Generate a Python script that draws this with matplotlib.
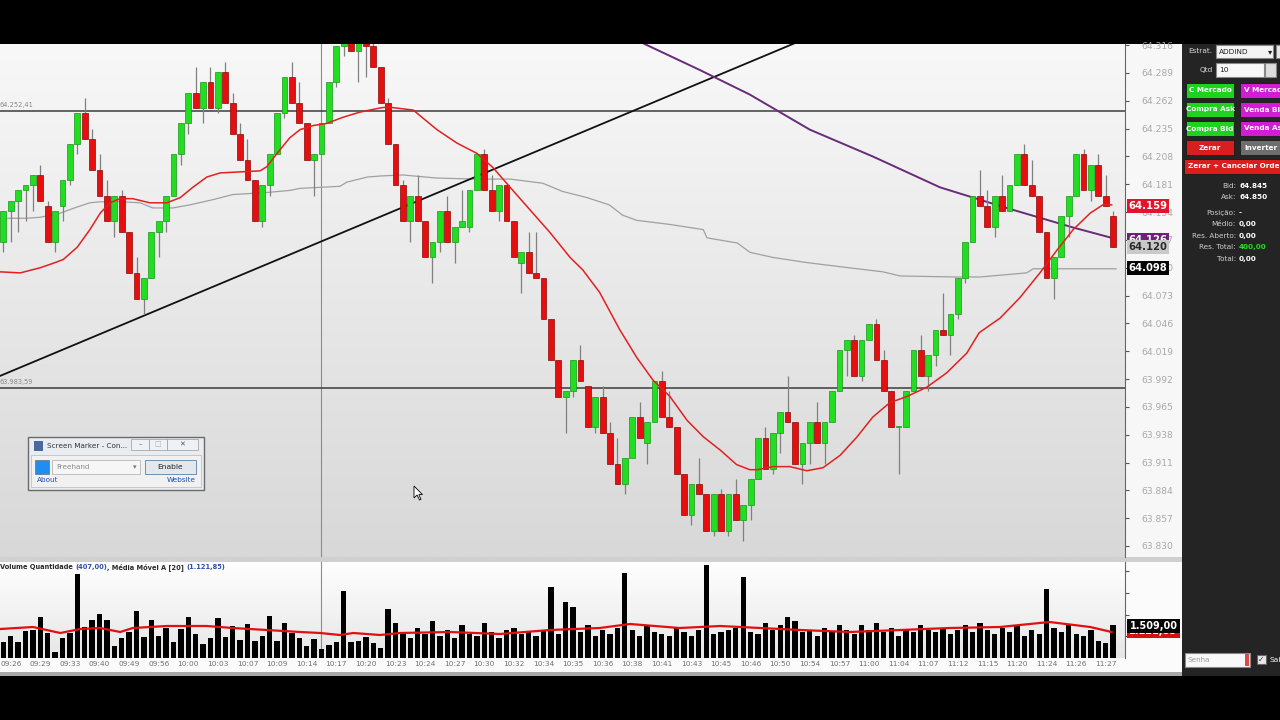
import numpy as np
import matplotlib.pyplot as plt
from matplotlib.patches import Rectangle, Polygon

W, H = 1280, 720

# candle data (index points, WIN futures)
opens = [64125, 64155, 64165, 64175, 64180, 64190, 64160, 64125, 64160, 64185,
         64220, 64250, 64225, 64195, 64170, 64145, 64170, 64135, 64095, 64070,
         64090, 64135, 64145, 64170, 64210, 64240, 64270, 64255, 64280, 64255,
         64290, 64260, 64230, 64205, 64185, 64145, 64180, 64210, 64250, 64285,
         64260, 64240, 64205, 64210, 64240, 64280, 64315, 64325, 64310, 64330,
         64315, 64295, 64260, 64220, 64180, 64145, 64170, 64145, 64110, 64125,
         64155, 64125, 64140, 64140, 64175, 64210, 64175, 64155, 64180, 64145,
         64105, 64115, 64095, 64090, 64050, 64010, 63975, 63980, 64010, 63985,
         63945, 63975, 63940, 63910, 63890, 63915, 63955, 63930, 63950, 63990,
         63955, 63945, 63900, 63860, 63890, 63880, 63845, 63880, 63845, 63880,
         63855, 63870, 63895, 63935, 63905, 63940, 63960, 63950, 63910, 63930,
         63950, 63930, 63950, 63980, 64020, 64030, 63995, 64030, 64045, 64010,
         63980, 63945, 63945, 63980, 64020, 63995, 64015, 64040, 64035, 64055,
         64090, 64125, 64170, 64160, 64140, 64170, 64155, 64180, 64210, 64180,
         64170, 64135, 64090, 64110, 64150, 64170, 64210, 64175, 64200, 64170,
         64150]
highs = [64155, 64165, 64175, 64180, 64190, 64200, 64165, 64155, 64185, 64220,
         64250, 64265, 64235, 64210, 64185, 64170, 64175, 64135, 64110, 64090,
         64135, 64145, 64170, 64210, 64240, 64270, 64295, 64280, 64295, 64290,
         64300, 64270, 64240, 64225, 64185, 64180, 64210, 64250, 64285, 64300,
         64280, 64240, 64210, 64240, 64280, 64315, 64335, 64335, 64330, 64340,
         64320, 64295, 64265, 64220, 64185, 64170, 64190, 64145, 64125, 64155,
         64170, 64140, 64175, 64175, 64210, 64215, 64190, 64180, 64180, 64145,
         64115, 64135, 64135, 64090, 64050, 64010, 63980, 64010, 64025, 63985,
         63975, 63985, 63950, 63935, 63915, 63955, 63970, 63950, 63990, 64000,
         63980, 63945, 63900, 63890, 63915, 63880, 63880, 63885, 63880, 63895,
         63870, 63895, 63935, 63945, 63940, 63960, 63995, 63950, 63930, 63950,
         63970, 63950, 63980, 64020, 64030, 64035, 64030, 64045, 64050, 64020,
         63980, 63945, 63980, 64020, 64035, 64015, 64040, 64075, 64055, 64090,
         64125, 64170, 64195, 64175, 64170, 64190, 64180, 64210, 64220, 64205,
         64170, 64135, 64110, 64150, 64170, 64210, 64215, 64200, 64210, 64190,
         64155]
lows = [64115, 64125, 64135, 64145, 64155, 64165, 64125, 64115, 64145, 64180,
        64210, 64225, 64195, 64170, 64145, 64130, 64135, 64095, 64070, 64055,
        64090, 64110, 64135, 64170, 64200, 64230, 64255, 64240, 64255, 64250,
        64260, 64230, 64205, 64185, 64145, 64140, 64170, 64210, 64245, 64260,
        64240, 64205, 64170, 64210, 64240, 64275, 64305, 64310, 64280, 64285,
        64295, 64260, 64220, 64180, 64145, 64125, 64145, 64110, 64085, 64115,
        64125, 64105, 64140, 64135, 64175, 64175, 64155, 64145, 64145, 64110,
        64075, 64095, 64090, 64050, 64010, 63975, 63940, 63975, 63990, 63945,
        63940, 63940, 63910, 63890, 63880, 63915, 63935, 63910, 63950, 63955,
        63945, 63900, 63860, 63850, 63880, 63845, 63840, 63845, 63840, 63855,
        63835, 63855, 63895, 63905, 63900, 63920, 63950, 63910, 63890, 63910,
        63930, 63910, 63950, 63980, 63995, 63995, 63990, 64030, 64010, 63980,
        63945, 63900, 63945, 63980, 63995, 63980, 64005, 64035, 64015, 64050,
        64085, 64125, 64160, 64140, 64130, 64155, 64155, 64180, 64180, 64170,
        64135, 64090, 64070, 64110, 64130, 64170, 64175, 64165, 64170, 64160,
        64120]
closes = [64155, 64165, 64175, 64180, 64190, 64165, 64125, 64155, 64185, 64220,
          64250, 64225, 64195, 64170, 64145, 64170, 64135, 64095, 64070, 64090,
          64135, 64145, 64170, 64210, 64240, 64270, 64255, 64280, 64255, 64290,
          64260, 64230, 64205, 64185, 64145, 64180, 64210, 64250, 64285, 64260,
          64240, 64205, 64210, 64240, 64280, 64315, 64330, 64310, 64325, 64315,
          64295, 64260, 64220, 64180, 64145, 64170, 64145, 64110, 64125, 64155,
          64125, 64140, 64145, 64175, 64210, 64175, 64155, 64180, 64145, 64110,
          64115, 64095, 64090, 64050, 64010, 63975, 63980, 64010, 63990, 63945,
          63975, 63940, 63910, 63890, 63915, 63955, 63935, 63950, 63990, 63955,
          63945, 63900, 63860, 63890, 63880, 63845, 63880, 63845, 63880, 63855,
          63870, 63895, 63935, 63905, 63940, 63960, 63950, 63910, 63930, 63950,
          63930, 63950, 63980, 64020, 64030, 63995, 64030, 64045, 64010, 63980,
          63945, 63945, 63980, 64020, 63995, 64015, 64040, 64035, 64055, 64090,
          64125, 64170, 64160, 64140, 64170, 64155, 64180, 64210, 64180, 64170,
          64135, 64090, 64110, 64150, 64170, 64210, 64175, 64200, 64170, 64160,
          64120]

volumes = [740, 1010, 740, 1240, 1290, 1890, 1150, 280, 920, 1150,
           3860, 1430, 1750, 2020, 1750, 550, 920, 1200, 2160, 970,
           1750, 1010, 1380, 740, 1330, 1890, 1100, 640, 920, 1840,
           970, 1470, 830, 1560, 780, 1010, 1930, 780, 1610, 1150,
           920, 550, 870, 407, 600, 740, 3080, 740, 780, 970,
           690, 460, 2250, 1610, 1200, 900, 1400, 1100, 1700, 1000,
           1300, 900, 1500, 1100, 1000, 1600, 1200, 900, 1300, 1400,
           1100, 1200, 1000, 1300, 3270, 1100, 2580, 2350, 1200, 1500,
           1000, 1300, 1100, 1400, 3910, 1300, 1000, 1500, 1200, 1100,
           1000, 1400, 1200, 1000, 1300, 4280, 1100, 1200, 1300, 1400,
           3730, 1200, 1100, 1600, 1300, 1500, 1900, 1700, 1200, 1300,
           1000, 1400, 1200, 1500, 1300, 1100, 1500, 1300, 1600, 1200,
           1400, 1000, 1300, 1200, 1500, 1300, 1200, 1400, 1100, 1300,
           1500, 1200, 1600, 1300, 1100, 1400, 1200, 1500, 1000, 1300,
           1100, 3170, 1400, 1200, 1500, 1100, 1000, 1300, 800, 700,
           1509]

# moving averages (candle index, value)
ma_fast_idx = [-0.4, 2.3, 5.0, 7.0, 8.1, 10.0, 11.7, 13.1, 14.4, 15.8, 17.5, 19.8, 22.1,
               23.9, 25.6, 27.5, 29.3, 32.0, 34.7, 35.6, 37.0, 38.7, 40.1, 41.9, 43.7,
               45.9, 48.2, 50.9, 51.9, 55.4, 58.6, 61.3, 64.0, 66.2, 68.5, 71.2, 73.9,
               76.6, 78.3, 80.6, 83.3, 85.6, 87.8, 90.1, 92.4, 94.6, 96.9, 99.1, 100.9,
               101.9, 104.0, 106.3, 108.6, 110.8, 113.1, 115.4, 117.5, 119.8, 122.1,
               124.8, 127.5, 130.2, 131.9, 134.7, 137.4, 140.1, 142.4, 144.6, 146.9,
               148.6, 149.8]
ma_fast_val = [64096, 64095, 64100, 64105, 64108, 64120, 64137, 64153, 64163, 64167,
               64167, 64163, 64163, 64168, 64178, 64188, 64192, 64193, 64194, 64198,
               64211, 64226, 64234, 64238, 64240, 64246, 64251, 64255, 64256, 64253,
               64234, 64221, 64211, 64197, 64178, 64156, 64134, 64110, 64098, 64076,
               64040, 64013, 63991, 63975, 63952, 63936, 63923, 63909, 63904, 63904,
               63907, 63907, 63903, 63906, 63918, 63936, 63955, 63969, 63975, 63984,
               63998, 64017, 64037, 64051, 64071, 64095, 64117, 64137, 64153, 64161,
               64161]
ma_slow_idx = [-0.4, 3.2, 5.0, 7.7, 10.0, 11.7, 13.1, 15.8, 18.5, 20.2, 22.9, 25.2,
               28.3, 31.0, 35.6, 38.7, 40.1, 45.5, 46.4, 49.2, 50.9, 54.0, 58.6, 64.0,
               68.5, 72.9, 75.6, 78.9, 81.9, 83.7, 85.6, 90.1, 94.6, 95.1, 99.2, 100.9,
               104.0, 108.6, 113.1, 118.9, 121.2, 128.9, 132.0, 138.3, 139.2, 146.9, 150.4]
ma_slow_val = [64148, 64148, 64149, 64153, 64159, 64163, 64164, 64164, 64163, 64158,
               64158, 64161, 64166, 64171, 64173, 64175, 64177, 64179, 64183, 64188,
               64189, 64190, 64187, 64186, 64186, 64182, 64174, 64168, 64161, 64151,
               64146, 64142, 64137, 64129, 64124, 64115, 64110, 64105, 64101, 64096,
               64092, 64091, 64091, 64095, 64099, 64099, 64099]
ma_purple_idx = [83.3, 86.7, 94.1, 100.9, 109.0, 117.5, 126.6, 135.6, 144.6, 149.8]
ma_purple_val = [64331, 64317, 64292, 64268, 64234, 64208, 64178, 64158, 64139, 64129]
trend_idx = [-0.45, 107.0]
trend_val = [63995, 64318]
level_lines = [64252.41, 63983.59]
level_labels = ['64.252,41', '63.983,59']

vol_ma_idx = [-0.4, 4.0, 7.7, 10.4, 13.1, 15.8, 17.5, 22.1, 27.5, 31.0, 35.6, 40.1, 42.8,
              45.5, 47.3, 50.9, 53.6, 60.4, 67.1, 73.9, 80.6, 84.7, 91.4, 96.9, 102.3,
              107.7, 114.4, 121.2, 127.9, 134.7, 141.4, 146.9, 149.8]
vol_ma_val = [1334, 1426, 1150, 1334, 1380, 1196, 1380, 1472, 1472, 1380, 1288, 1196, 1150,
              1058, 1150, 1058, 1150, 1196, 1104, 1288, 1380, 1564, 1380, 1472, 1380,
              1288, 1196, 1288, 1380, 1426, 1656, 1426, 1196]

time_labels = ['09:26', '09:29', '09:33', '09:40', '09:49', '09:56', '10:00', '10:03',
               '10:07', '10:09', '10:14', '10:17', '10:20', '10:23', '10:24', '10:27',
               '10:30', '10:32', '10:34', '10:35', '10:36', '10:38', '10:41', '10:43',
               '10:45', '10:46', '10:50', '10:54', '10:57', '11:00', '11:04', '11:07',
               '11:12', '11:15', '11:20', '11:24', '11:26', '11:27']

n = len(closes)
idx = np.arange(n)
XLIM = (-0.45, 151.6)
PLIM = (63819.3, 64317.1)
VLIM = (0, 4416)


def rect(x0, y0, x1, y1):
    return [x0 / W, 1 - y1 / H, (x1 - x0) / W, (y1 - y0) / H]


fig = plt.figure(figsize=(12.8, 7.2), dpi=100, facecolor='black')


def box(x0, y0, x1, y1, fc, ec='none', lw=0.8, z=1):
    fig.add_artist(Rectangle((x0 / W, 1 - y1 / H), (x1 - x0) / W, (y1 - y0) / H,
                             transform=fig.transFigure, facecolor=fc, edgecolor=ec,
                             linewidth=lw, zorder=z))


def ftext(x, y, s, **kw):
    kw.setdefault('va', 'center')
    kw.setdefault('fontsize', 6)
    return fig.text(x / W, 1 - y / H, s, zorder=kw.pop('zorder', 5), **kw)


# chart frame pieces
box(1125, 44, 1182, 557, '#f7f7f7', z=0)
box(0, 557, 1182, 562, '#d0d0d0', z=0)
box(1125, 562, 1182, 672, '#fbfbfb', z=0)
box(0, 658, 1125, 672, '#fbfbfb', z=0)
box(0, 672, 1182, 676, '#a8a8a8', z=0)
box(1182, 44, 1280, 676, '#242424', z=0)

# ---- price panel ----
ax = fig.add_axes(rect(0, 44, 1125, 557))
grad = np.linspace(0, 1, 256).reshape(-1, 1)
ax.imshow(grad, cmap=plt.matplotlib.colors.LinearSegmentedColormap.from_list(
    'bg', ['#f8f8f8', '#d8d8d8']), extent=[0, 1, 0, 1], transform=ax.transAxes,
    aspect='auto', origin='upper', zorder=0)

ax.axvline(43.0, color='#8c8c8c', lw=0.8, zorder=1)
for lv, lt in zip(level_lines, level_labels):
    ax.axhline(lv, color='#3c3c3c', lw=1.1, zorder=1)
    ax.text(0.0, lv + 3, lt, fontsize=4.8, color='#888888', ha='left', va='bottom',
            transform=ax.get_yaxis_transform(), zorder=2)

ax.plot(ma_slow_idx, ma_slow_val, color='#a0a0a0', lw=0.9, zorder=2)
ax.plot(trend_idx, trend_val, color='#111111', lw=1.3, zorder=3)
ax.plot(ma_purple_idx, ma_purple_val, color='#6a2a7a', lw=1.4, zorder=3)

o = np.array(opens)
c = np.array(closes)
up = c >= o
ax.vlines(idx, lows, highs, color='#808080', lw=0.9, zorder=4)
body = np.maximum(np.abs(c - o), 1.2)
ax.bar(idx[up], body[up], bottom=np.minimum(o, c)[up], width=0.78,
       color='#22dd22', edgecolor='#159a15', linewidth=0.5, zorder=5)
ax.bar(idx[~up], body[~up], bottom=np.minimum(o, c)[~up], width=0.78,
       color='#e50f0f', edgecolor='#8a0a0a', linewidth=0.5, zorder=5)

ax.plot(ma_fast_idx, ma_fast_val, color='#e22020', lw=1.1, zorder=6)

ax.set_xlim(*XLIM)
ax.set_ylim(*PLIM)
ax.set_xticks([])
ax.yaxis.tick_right()
ax.set_yticks([63830 + 27 * k for k in range(19)])
ax.set_yticklabels([f'{(63830 + 27 * k) / 1000:.3f}' for k in range(19)])
ax.tick_params(axis='y', direction='out', length=3, width=0.8, colors='#555555',
               labelcolor='#a8a8a8', labelsize=6.6, pad=9)
for s in ['top', 'left', 'bottom']:
    ax.spines[s].set_visible(False)
ax.spines['right'].set_color('#666666')

# ---- volume panel ----
axv = fig.add_axes(rect(0, 562, 1125, 658))
axv.imshow(grad, cmap=plt.matplotlib.colors.LinearSegmentedColormap.from_list(
    'bgv', ['#ffffff', '#e6e6e6']), extent=[0, 1, 0, 1], transform=axv.transAxes,
    aspect='auto', origin='upper', zorder=0)
axv.axvline(43.0, color='#8c8c8c', lw=0.8, zorder=1)
axv.bar(idx, volumes, width=0.72, color='black', zorder=2)
axv.plot(vol_ma_idx, vol_ma_val, color='#e01010', lw=1.6, zorder=3)
axv.set_xlim(*XLIM)
axv.set_ylim(*VLIM)
axv.set_xticks([1 + 4 * k for k in range(len(time_labels))])
axv.set_xticklabels(time_labels)
axv.tick_params(axis='x', length=0, labelsize=5.3, labelcolor='#707070', pad=2.5)
axv.yaxis.tick_right()
axv.set_yticks([1000, 2000, 3000, 4000])
axv.set_yticklabels([])
axv.tick_params(axis='y', direction='out', length=3, colors='#555555')
for s in ['top', 'left', 'bottom']:
    axv.spines[s].set_visible(False)
axv.spines['right'].set_color('#666666')

# volume title, blue numbers
r = fig.canvas.get_renderer()
xpos = 0
for part, col in [('Volume Quantidade ', '#2a2a2a'), ('(407,00)', '#3050a8'),
                  (', Média Móvel A [20] ', '#2a2a2a'), ('(1.121,85)', '#3050a8')]:
    t = ftext(xpos, 567, part, color=col, fontsize=4.8, fontweight='bold')
    xpos += t.get_window_extent(r).width


# value tags on the right axis, later ones drawn on top
def tag(y, s, fc, tc, z, x0=1127, x1=1169, fs=7.2):
    box(x0, y - 7, x1, y + 7, fc, z=z)
    ftext((x0 + x1) / 2, y, s, color=tc, fontsize=fs, fontweight='bold', ha='center',
          zorder=z + 0.5)


tag(206, '64.159', '#e3142a', 'white', 10)
tag(240, '64.126', '#6e2278', 'white', 11)
tag(247, '64.120', '#c9c9c9', '#2a2a2a', 12)
tag(268, '64.098', '#050505', 'white', 13)
tag(631, '1.121,85', '#d81010', 'white', 10, x0=1127, x1=1180, fs=7)
tag(626, '1.509,00', '#050505', 'white', 11, x0=1127, x1=1180, fs=7)

# ---- order panel on the right ----
ftext(1188, 51, 'Estrat.', color='#d8d8d8', fontsize=5.3)
box(1216, 45, 1273, 58, '#f4f4f4', ec='#888888')
ftext(1219, 51.5, 'ADDIND', color='#222222', fontsize=5.3)
ftext(1268, 51.5, '▾', color='#222222', fontsize=6)
box(1276, 45, 1284, 58, '#e8e8e8', ec='#888888')
ftext(1200, 70, 'Qtd', color='#d8d8d8', fontsize=5.3)
box(1216, 63, 1264, 77, '#f8f8f8', ec='#888888')
ftext(1219, 70, '10', color='#222222', fontsize=5.3)
box(1265, 63, 1276, 77, '#dddddd', ec='#888888')

buttons = [
    (1186, 83, 1234, 98, '#1ed21e', 'C Mercado'), (1240, 83, 1284, 98, '#d21ed2', 'V Mercado'),
    (1186, 102, 1234, 117, '#1ed21e', 'Compra Ask'), (1240, 102, 1284, 117, '#d21ed2', 'Venda Bid'),
    (1186, 121, 1234, 136, '#1ed21e', 'Compra Bid'), (1240, 121, 1284, 136, '#d21ed2', 'Venda Ask'),
    (1186, 140, 1234, 155, '#d81e1e', 'Zerar'), (1240, 140, 1284, 155, '#6e6e6e', 'Inverter'),
    (1184, 159, 1284, 174, '#d81e1e', 'Zerar + Cancelar Ordens'),
]
for x0, y0, x1, y1, fc, lab in buttons:
    box(x0, y0, x1, y1, fc, ec='#1a1a1a', lw=0.6, z=2)
    ftext(x0 + 4 if x1 > 1280 else (x0 + x1) / 2, (y0 + y1) / 2, lab, color='white',
          fontsize=5.2, fontweight='bold', ha='left' if x1 > 1280 else 'center')

info = [('Bid:', '64.845', 186, 'white'), ('Ask:', '64.850', 197, 'white'),
        ('Posição:', '-', 213, 'white'), ('Médio:', '0,00', 224, 'white'),
        ('Res. Aberto:', '0,00', 236, 'white'), ('Res. Total:', '400,00', 247, '#22dd22'),
        ('Total:', '0,00', 259, 'white')]
for lab, val, y, col in info:
    ftext(1236, y, lab, color='#cfcfcf', fontsize=5.2, ha='right')
    ftext(1239, y, val, color=col, fontsize=5.2, fontweight='bold')

box(1185, 653, 1250, 667, '#f8f8f8', ec='#888888')
ftext(1188, 660, 'Senha', color='#9a9a9a', fontsize=5.2)
box(1245, 654, 1249, 666, '#e04848')
box(1257, 655, 1266, 664, '#e8e8e8', ec='#666666')
ftext(1261.5, 659.5, '✓', color='#333333', fontsize=5.5, ha='center')
ftext(1269, 660, 'Sal', color='white', fontsize=5.3)

# ---- Screen Marker window ----
box(28, 437, 204, 490, '#e9edf1', ec='#6a6a6a', lw=1.0, z=6)
box(31, 455, 201, 487, '#f1f1f1', ec='#b8b8b8', lw=0.5, z=6)
box(34, 441, 43, 451, '#4a6a9a', z=7)
ftext(47, 446, 'Screen Marker - Con...', color='#333333', fontsize=5.2, zorder=7)
box(131, 439, 149, 450, '#eef1f5', ec='#9a9a9a', lw=0.5, z=7)
box(149, 439, 167, 450, '#eef1f5', ec='#9a9a9a', lw=0.5, z=7)
box(167, 439, 198, 450, '#eef1f5', ec='#9a9a9a', lw=0.5, z=7)
ftext(140, 444.5, '–', color='#555555', fontsize=5, ha='center', zorder=8)
ftext(158, 444.5, '□', color='#aaaaaa', fontsize=5, ha='center', zorder=8)
ftext(182, 444.5, '✕', color='#555555', fontsize=5, ha='center', zorder=8)
box(35, 460, 49, 474, '#1f8ef0', ec='#5a5a5a', lw=0.4, z=7)
box(52, 460, 140, 474, '#f6f6f6', ec='#aaaaaa', lw=0.5, z=7)
ftext(56, 467, 'Freehand', color='#8a8a8a', fontsize=5.2, zorder=8)
ftext(135, 467, '▾', color='#777777', fontsize=5, ha='center', zorder=8)
box(145, 460, 196, 474, '#e4e8ee', ec='#6f8fb0', lw=0.7, z=7)
ftext(170.5, 467, 'Enable', color='#222222', fontsize=5.4, ha='center', zorder=8)
ftext(37, 480, 'About', color='#1a4fb5', fontsize=5.2, zorder=8)
ftext(167, 480, 'Website', color='#1a4fb5', fontsize=5.2, zorder=8)

# mouse cursor
cur = np.array([[0, 0], [0, 12], [3, 9], [5.5, 14], [7, 13.3], [4.8, 8.6], [8.5, 8.6]])
cur = cur + [414, 486]
fig.add_artist(Polygon(np.column_stack([cur[:, 0] / W, 1 - cur[:, 1] / H]),
                       closed=True, transform=fig.transFigure, facecolor='white',
                       edgecolor='black', linewidth=0.6, zorder=9))

fig.savefig('out.png', dpi=100, facecolor='black')
